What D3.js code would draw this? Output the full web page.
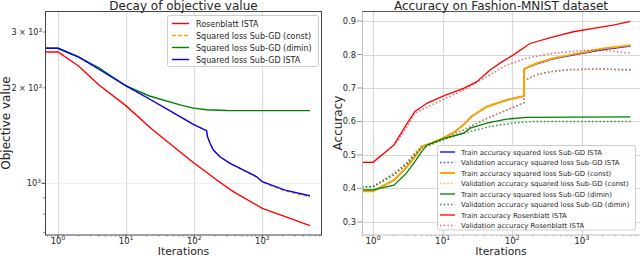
<!DOCTYPE html>
<html>
<meta charset="utf-8">
<style>
body { margin: 0; background: #fff; }
text { font-family: "DejaVu Sans", sans-serif; fill: #262626; }
</style>
<body>
<script src="https://d3js.org/d3.v7.min.js"></script>
<script>
// ---- left panel: objective value ----
const rosIters = [1, 2, 4, 10, 24, 50, 100, 150, 214, 375, 1000, 2280, 5000];
const rosObj   = [2596, 2344, 2042, 1755, 1480, 1304, 1157, 1086, 1024, 941, 834, 782, 735];

const istaIters = [1, 2, 4, 10, 22, 62, 97, 152, 157, 171, 191, 239, 336, 590, 828, 1000, 2150, 5000];
const istaObj   = [2667, 2506, 2290, 2030, 1845, 1623, 1535, 1465, 1403, 1337, 1274, 1213, 1156, 1088, 1049, 1012, 952, 914];

const constIters = [1, 2, 4, 10, 22, 62, 97, 152, 157, 171, 191, 239, 336, 590, 828, 1000, 2150, 5000];
const constObj   = [2667, 2506, 2290, 2030, 1845, 1623, 1535, 1465, 1403, 1337, 1274, 1213, 1155, 1086, 1046, 1008, 946, 905];

const diminIters = [1, 2, 4, 10, 22, 62, 98, 152, 300, 1000, 5000];
const diminObj   = [2667, 2500, 2312, 2028, 1886, 1767, 1727, 1707, 1697, 1695, 1695];

const objNames = ["Rosenblatt ISTA", "Squared loss Sub-GD (const)", "Squared loss Sub-GD (dimin)", "Squared loss Sub-GD ISTA"];

// ---- right panel: accuracy ----
const rosTrIters = [1, 2, 3, 4, 6, 11, 20, 31, 48, 71, 104, 180, 390, 755, 1460, 2830, 5000];
const rosTrAcc   = [0.478, 0.53, 0.59, 0.63, 0.655, 0.679, 0.699, 0.719, 0.754, 0.778, 0.799, 0.833, 0.853, 0.868, 0.878, 0.888, 0.899];
const rosVaIters = [1, 2, 3, 4, 11, 20, 48, 84, 161, 390, 1170, 2030, 5000];
const rosVaAcc   = [0.478, 0.528, 0.58, 0.625, 0.669, 0.694, 0.739, 0.769, 0.789, 0.804, 0.813, 0.813, 0.804];

const constTrIters = [1, 2, 3, 4, 5, 7, 10, 14, 20, 26, 43, 83, 136, 147, 149, 224, 389, 675, 1170, 2030, 5000];
const constTrAcc   = [0.392, 0.425, 0.462, 0.495, 0.525, 0.535, 0.55, 0.565, 0.59, 0.615, 0.644, 0.664, 0.674, 0.676, 0.757, 0.774, 0.789, 0.799, 0.808, 0.818, 0.828];
const constVaIters = [1, 2, 3, 4, 5, 10, 20, 43, 83, 141, 147, 149, 224, 389, 675, 2030, 5000];
const constVaAcc   = [0.405, 0.445, 0.475, 0.505, 0.525, 0.548, 0.575, 0.609, 0.634, 0.654, 0.656, 0.722, 0.739, 0.749, 0.754, 0.756, 0.752];

const istaTrIters = [1, 2, 3, 4, 5, 7, 10, 14, 20, 26, 43, 83, 136, 147, 149, 224, 389, 675, 1170, 2030, 5000];
const istaTrAcc   = [0.392, 0.425, 0.462, 0.495, 0.525, 0.535, 0.55, 0.565, 0.59, 0.615, 0.644, 0.664, 0.674, 0.676, 0.757, 0.772, 0.787, 0.797, 0.806, 0.815, 0.825];
const istaVaIters = [1, 2, 3, 4, 5, 10, 20, 43, 83, 141, 147, 149, 224, 389, 675, 2030, 5000];
const istaVaAcc   = [0.405, 0.445, 0.475, 0.505, 0.525, 0.548, 0.575, 0.609, 0.634, 0.654, 0.656, 0.722, 0.740, 0.750, 0.755, 0.757, 0.754];

const diminTrIters = [1, 2, 3, 4, 5, 6, 8, 11, 20, 25, 43, 83, 160, 5000];
const diminTrAcc   = [0.396, 0.41, 0.445, 0.48, 0.51, 0.53, 0.54, 0.55, 0.565, 0.58, 0.595, 0.607, 0.612, 0.614];
const diminVaIters = [1, 2, 3, 4, 5, 10, 20, 48, 100, 200, 5000];
const diminVaAcc   = [0.405, 0.44, 0.47, 0.5, 0.52, 0.545, 0.565, 0.585, 0.595, 0.6, 0.6];

const accNames = [
  "Train accuracy squared loss Sub-GD ISTA",
  "Validation accuracy squared loss Sub-GD ISTA",
  "Train accuracy squared loss Sub-GD (const)",
  "Validation accuracy squared loss Sub-GD (const)",
  "Train accuracy squared loss Sub-GD (dimin)",
  "Validation accuracy squared loss Sub-GD (dimin)",
  "Train accuracy Rosenblatt ISTA",
  "Validation accuracy Rosenblatt ISTA"
];
const accTicks = [0.3, 0.4, 0.5, 0.6, 0.7, 0.8, 0.9];
const iterTicks = [1, 10, 100, 1000];

const svg = d3.select("body").append("svg").attr("width", 640).attr("height", 258);

function zip(xs, ys) { return xs.map((v, i) => [v, ys[i]]); }

// superscript label like 10^3 or "2 × 10^3"
function powText(g, x, y, prefix, exp, size, anchor) {
  const t = g.append("text").attr("x", x).attr("y", y)
    .attr("font-size", size).attr("text-anchor", anchor);
  t.append("tspan").text(prefix + "10");
  t.append("tspan").attr("dy", -size * 0.42).attr("font-size", size * 0.7).text(exp);
  return t;
}

function minorTicks(scale) {
  const [a, b] = scale.domain();
  const out = [];
  for (let e = Math.floor(Math.log10(a)); e <= Math.ceil(Math.log10(b)); e++)
    for (let m = 2; m <= 9; m++) {
      const v = m * Math.pow(10, e);
      if (v >= a && v <= b) out.push(v);
    }
  return out;
}

// ================= LEFT =================
const xL = d3.scaleLog().domain([0.644, 7530]).range([45, 322]);
const yL = d3.scaleLog().domain([687, 3496]).range([235, 11]);
const gL = svg.append("g");

svg.append("clipPath").attr("id", "clipL").append("rect")
  .attr("x", 45).attr("y", 11).attr("width", 277).attr("height", 224);

// grid
gL.selectAll(".gx").data(iterTicks).enter().append("line")
  .attr("x1", d => Math.round(xL(d)) + 0.5).attr("x2", d => Math.round(xL(d)) + 0.5)
  .attr("y1", 11).attr("y2", 235).attr("stroke", "#dcdcdc").attr("stroke-width", 1.2);
gL.append("line").attr("x1", 45).attr("x2", 322)
  .attr("y1", yL(1000)).attr("y2", yL(1000)).attr("stroke", "#ebebeb");

function objLine(iters, vals) {
  const pts = [[xL.domain()[0], vals[0]]].concat(zip(iters, vals));
  return d3.line().x(d => xL(d[0])).y(d => yL(d[1]))(pts);
}
const objSeries = [
  {it: rosIters, v: rosObj, c: "#ff0000", dash: null},
  {it: constIters, v: constObj, c: "#ffa500", dash: "4,2"},
  {it: diminIters, v: diminObj, c: "#008000", dash: null},
  {it: istaIters, v: istaObj, c: "#0000ff", dash: null}
];
const linesL = gL.append("g").attr("clip-path", "url(#clipL)");
objSeries.forEach(s => {
  linesL.append("path").attr("d", objLine(s.it, s.v)).attr("fill", "none")
    .attr("stroke", s.c).attr("stroke-width", 1.4)
    .attr("stroke-dasharray", s.dash);
});

// frame
gL.append("rect").attr("x", 45.5).attr("y", 11.5).attr("width", 276).attr("height", 223.5)
  .attr("fill", "none").attr("stroke", "#444").attr("stroke-width", 1);

// x ticks
iterTicks.forEach((d, i) => {
  gL.append("line").attr("x1", xL(d)).attr("x2", xL(d)).attr("y1", 235).attr("y2", 238.5).attr("stroke", "#444");
  powText(gL, xL(d), 244, "", String(i), 8.5, "middle");
});
minorTicks(xL).forEach(d => {
  gL.append("line").attr("x1", xL(d)).attr("x2", xL(d)).attr("y1", 235).attr("y2", 237).attr("stroke", "#777").attr("stroke-width", 0.6);
});
// y ticks
gL.append("line").attr("x1", 41.5).attr("x2", 45).attr("y1", yL(1000)).attr("y2", yL(1000)).attr("stroke", "#444");
powText(gL, 41, yL(1000) + 3, "", "3", 8.3, "end");
[2000, 3000].forEach(d => {
  gL.append("line").attr("x1", 43).attr("x2", 45).attr("y1", yL(d)).attr("y2", yL(d)).attr("stroke", "#444").attr("stroke-width", 0.6);
  powText(gL, 42, yL(d) + 3, (d / 1000) + " \u00d7 ", "3", 8, "end");
});
[700, 800, 900].forEach(d => {
  gL.append("line").attr("x1", 43).attr("x2", 45).attr("y1", yL(d)).attr("y2", yL(d)).attr("stroke", "#444").attr("stroke-width", 0.6);
});

gL.append("text").attr("x", 183.5).attr("y", 9.5).attr("text-anchor", "middle")
  .attr("font-size", 12).text("Decay of objective value");
gL.append("text").attr("x", 183.5).attr("y", 255.3).attr("text-anchor", "middle")
  .attr("font-size", 10.8).text("Iterations");
gL.append("text").attr("transform", "translate(10,123) rotate(-90)").attr("text-anchor", "middle")
  .attr("font-size", 12).text("Objective value");

// legend
const legL = gL.append("g");
legL.append("rect").attr("x", 167.5).attr("y", 15.5).attr("width", 151).attr("height", 51).attr("rx", 2)
  .attr("fill", "#fff").attr("fill-opacity", 0.85).attr("stroke", "#ccc");
objSeries.forEach((s, i) => {
  const y = 23.5 + i * 12;
  legL.append("line").attr("x1", 172).attr("x2", 189).attr("y1", y).attr("y2", y)
    .attr("stroke", s.c).attr("stroke-width", 1.4).attr("stroke-dasharray", s.dash);
  legL.append("text").attr("x", 196).attr("y", y + 3).attr("font-size", 8).text(objNames[i]);
});

// ================= RIGHT =================
const xR = d3.scaleLog().domain([0.695, 6860]).range([362, 640]);
const yR = d3.scaleLinear().domain([0.261, 0.927]).range([235, 12]);
const gR = svg.append("g");

svg.append("clipPath").attr("id", "clipR").append("rect")
  .attr("x", 362).attr("y", 12).attr("width", 278).attr("height", 223);

gR.selectAll(".gx").data(iterTicks).enter().append("line")
  .attr("x1", d => Math.round(xR(d)) + 0.5).attr("x2", d => Math.round(xR(d)) + 0.5)
  .attr("y1", 12).attr("y2", 235).attr("stroke", "#d8d8d8").attr("stroke-width", 1.2);
gR.selectAll(".gy").data(accTicks).enter().append("line")
  .attr("x1", 362).attr("x2", 640)
  .attr("y1", d => Math.round(yR(d)) + 0.5).attr("y2", d => Math.round(yR(d)) + 0.5)
  .attr("stroke", "#d8d8d8").attr("stroke-width", 1.2);

function accLine(iters, vals) {
  const pts = [[xR.domain()[0], vals[0]]].concat(zip(iters, vals));
  return d3.line().x(d => xR(d[0])).y(d => yR(d[1]))(pts);
}
const dot = "1.5,2.2";
const accSeries = [
  {it: istaTrIters, v: istaTrAcc, c: "#0000ff", w: 1.3, dash: null, op: 1},
  {it: istaVaIters, v: istaVaAcc, c: "#0000ff", w: 1.5, dash: dot, op: 0.75},
  {it: constTrIters, v: constTrAcc, c: "#ffa500", w: 2, dash: null, op: 1},
  {it: constVaIters, v: constVaAcc, c: "#ffa500", w: 1.5, dash: dot, op: 0.8},
  {it: diminTrIters, v: diminTrAcc, c: "#008000", w: 1.3, dash: null, op: 1},
  {it: diminVaIters, v: diminVaAcc, c: "#008000", w: 1.5, dash: dot, op: 0.8},
  {it: rosTrIters, v: rosTrAcc, c: "#ff0000", w: 1.3, dash: null, op: 1},
  {it: rosVaIters, v: rosVaAcc, c: "#ff0000", w: 1.5, dash: dot, op: 0.6}
];
const linesR = gR.append("g").attr("clip-path", "url(#clipR)");
accSeries.forEach(s => {
  linesR.append("path").attr("d", accLine(s.it, s.v)).attr("fill", "none")
    .attr("stroke", s.c).attr("stroke-width", s.w).attr("stroke-opacity", s.op)
    .attr("stroke-dasharray", s.dash);
});

gR.append("line").attr("x1", 362).attr("x2", 640).attr("y1", 11.5).attr("y2", 11.5).attr("stroke", "#555");
gR.append("line").attr("x1", 362.5).attr("x2", 362.5).attr("y1", 11.5).attr("y2", 235).attr("stroke", "#bbb");
gR.append("line").attr("x1", 362).attr("x2", 640).attr("y1", 235).attr("y2", 235).attr("stroke", "#bbb");

accTicks.forEach(d => {
  gR.append("line").attr("x1", 357).attr("x2", 362).attr("y1", yR(d)).attr("y2", yR(d)).attr("stroke", "#999");
  gR.append("text").attr("x", 356).attr("y", yR(d) + 3).attr("text-anchor", "end")
    .attr("font-size", 8.3).text(d3.format(".1f")(d));
});
iterTicks.forEach((d, i) => {
  gR.append("line").attr("x1", xR(d)).attr("x2", xR(d)).attr("y1", 235).attr("y2", 238).attr("stroke", "#999");
  powText(gR, xR(d), 243.5, "", String(i), 8.8, "middle");
});
minorTicks(xR).forEach(d => {
  gR.append("line").attr("x1", xR(d)).attr("x2", xR(d)).attr("y1", 235).attr("y2", 237).attr("stroke", "#aaa").attr("stroke-width", 0.6);
});

gR.append("text").attr("x", 501).attr("y", 9.5).attr("text-anchor", "middle")
  .attr("font-size", 12).text("Accuracy on Fashion-MNIST dataset");
gR.append("text").attr("x", 501).attr("y", 255.3).attr("text-anchor", "middle")
  .attr("font-size", 10.8).text("Iterations");
gR.append("text").attr("transform", "translate(342,123) rotate(-90)").attr("text-anchor", "middle")
  .attr("font-size", 12).text("Accuracy");

const legR = gR.append("g");
legR.append("rect").attr("x", 437.5).attr("y", 145.5).attr("width", 198).attr("height", 84.5).attr("rx", 2)
  .attr("fill", "#fff").attr("fill-opacity", 0.85).attr("stroke", "#ccc");
accSeries.forEach((s, i) => {
  const y = 152 + i * 10.5;
  legR.append("line").attr("x1", 440).attr("x2", 455).attr("y1", y).attr("y2", y)
    .attr("stroke", s.c).attr("stroke-width", s.w).attr("stroke-opacity", s.op)
    .attr("stroke-dasharray", s.dash);
  legR.append("text").attr("x", 461).attr("y", y + 2.5).attr("font-size", 6.9).text(accNames[i]);
});
</script>
</body>
</html>
